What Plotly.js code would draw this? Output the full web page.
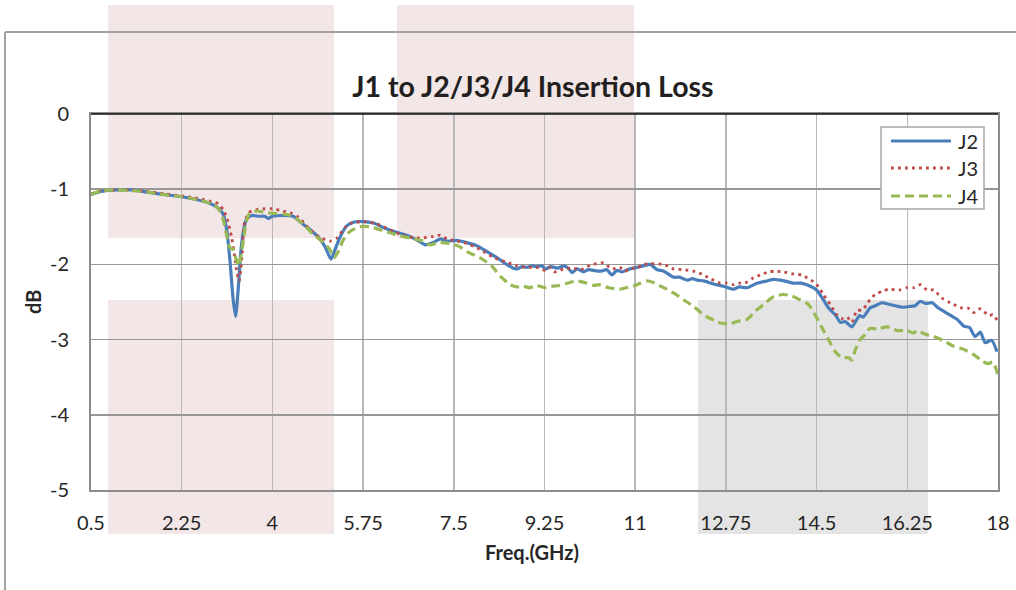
<!DOCTYPE html>
<html><head><meta charset="utf-8">
<script src="https://cdn.plot.ly/plotly-3.0.1.min.js"></script>
<style>html,body{margin:0;padding:0;background:#fff}</style>
</head><body><div id="chart" style="width:1016px;height:590px"></div>
<script>
// ---- data ----
const seriesNames = ['J2', 'J3', 'J4'];
const freqJ2 = [0.5,0.7,1.0,1.3,1.6,1.9,2.25,2.55,2.8,2.95,3.05,3.12,3.18,3.24,3.29,3.34,3.39,3.44,3.5,3.6,3.75,3.85,3.92,4.0,4.2,4.4,4.53,4.73,4.89,5.02,5.13,5.21,5.31,5.43,5.56,5.76,5.95,6.14,6.33,6.53,6.72,6.85,6.95,7.1,7.24,7.37,7.56,7.75,7.94,8.14,8.33,8.52,8.65,8.72,8.82,8.91,9.0,9.1,9.2,9.27,9.37,9.5,9.63,9.72,9.78,9.88,10.0,10.1,10.2,10.34,10.45,10.55,10.65,10.75,10.82,10.9,10.97,11.16,11.29,11.42,11.55,11.74,11.85,11.93,12.0,12.1,12.2,12.32,12.51,12.7,12.9,13.0,13.16,13.35,13.54,13.67,13.87,14.06,14.2,14.38,14.5,14.63,14.73,14.86,14.96,15.05,15.18,15.33,15.4,15.53,15.63,15.76,15.89,16.02,16.15,16.28,16.4,16.5,16.6,16.73,16.85,17.02,17.21,17.34,17.45,17.56,17.66,17.75,17.88,17.98];
const lossJ2 = [-1.07,-1.03,-1.01,-1.01,-1.04,-1.07,-1.10,-1.14,-1.19,-1.25,-1.33,-1.55,-1.94,-2.45,-2.69,-2.33,-1.84,-1.56,-1.40,-1.35,-1.36,-1.36,-1.39,-1.36,-1.35,-1.36,-1.43,-1.54,-1.64,-1.77,-1.93,-1.80,-1.63,-1.49,-1.44,-1.43,-1.45,-1.51,-1.56,-1.60,-1.65,-1.70,-1.74,-1.71,-1.66,-1.69,-1.68,-1.71,-1.75,-1.83,-1.91,-2.00,-2.05,-2.06,-2.03,-2.04,-2.02,-2.03,-2.02,-2.06,-2.03,-2.05,-2.02,-2.06,-2.11,-2.06,-2.10,-2.07,-2.08,-2.09,-2.07,-2.14,-2.08,-2.10,-2.08,-2.06,-2.05,-2.02,-2.00,-2.07,-2.09,-2.17,-2.17,-2.19,-2.21,-2.19,-2.21,-2.22,-2.26,-2.29,-2.33,-2.30,-2.31,-2.25,-2.22,-2.20,-2.22,-2.25,-2.25,-2.29,-2.34,-2.47,-2.58,-2.67,-2.77,-2.76,-2.83,-2.68,-2.70,-2.58,-2.55,-2.51,-2.53,-2.55,-2.57,-2.56,-2.55,-2.49,-2.52,-2.51,-2.58,-2.65,-2.73,-2.82,-2.84,-2.96,-2.90,-3.04,-3.01,-3.16];
const freqJ3 = [0.5,0.7,1.0,1.3,1.6,1.9,2.25,2.55,2.8,2.95,3.05,3.13,3.21,3.27,3.32,3.36,3.39,3.42,3.46,3.55,3.7,3.85,4.0,4.21,4.37,4.5,4.69,4.89,5.11,5.24,5.4,5.53,5.76,6.01,6.33,6.59,6.85,7.08,7.24,7.37,7.56,7.7,7.82,8.0,8.27,8.52,8.72,8.91,9.1,9.27,9.35,9.45,9.63,9.8,9.95,10.07,10.19,10.39,10.55,10.7,10.8,10.9,11.03,11.16,11.29,11.55,11.74,11.93,12.12,12.29,12.45,12.64,12.77,12.9,13.0,13.12,13.25,13.41,13.57,13.7,13.86,14.06,14.22,14.32,14.44,14.54,14.63,14.76,14.89,14.99,15.09,15.18,15.28,15.38,15.47,15.54,15.63,15.76,15.89,16.1,16.24,16.37,16.5,16.63,16.76,16.92,17.08,17.31,17.42,17.53,17.66,17.82,17.9,17.98];
const lossJ3 = [-1.06,-1.02,-1.01,-1.01,-1.03,-1.06,-1.09,-1.12,-1.16,-1.19,-1.27,-1.40,-1.63,-1.89,-2.12,-2.22,-2.07,-1.85,-1.45,-1.31,-1.27,-1.26,-1.26,-1.29,-1.32,-1.37,-1.51,-1.63,-1.69,-1.65,-1.51,-1.45,-1.43,-1.46,-1.56,-1.63,-1.65,-1.63,-1.61,-1.66,-1.69,-1.71,-1.74,-1.80,-1.91,-1.97,-2.02,-2.04,-2.04,-2.08,-2.04,-2.10,-2.06,-2.05,-2.07,-2.03,-2.00,-1.98,-2.06,-2.04,-2.09,-2.05,-2.05,-2.00,-1.99,-2.00,-2.06,-2.07,-2.09,-2.13,-2.19,-2.25,-2.25,-2.27,-2.25,-2.25,-2.19,-2.14,-2.10,-2.09,-2.10,-2.13,-2.14,-2.18,-2.23,-2.30,-2.40,-2.53,-2.67,-2.72,-2.70,-2.77,-2.61,-2.61,-2.53,-2.46,-2.40,-2.36,-2.33,-2.34,-2.31,-2.31,-2.27,-2.34,-2.34,-2.45,-2.51,-2.58,-2.58,-2.64,-2.59,-2.68,-2.67,-2.74];
const freqJ4 = [0.5,0.7,1.0,1.3,1.6,1.9,2.25,2.55,2.8,2.95,3.05,3.12,3.18,3.24,3.3,3.35,3.39,3.44,3.49,3.55,3.7,3.86,4.0,4.21,4.4,4.6,4.76,4.95,5.11,5.19,5.27,5.37,5.5,5.69,5.88,6.08,6.27,6.46,6.66,6.91,7.04,7.2,7.4,7.6,7.78,8.0,8.23,8.4,8.59,8.72,8.84,8.97,9.1,9.25,9.4,9.55,9.69,9.88,10.07,10.2,10.3,10.49,10.7,10.88,11.0,11.1,11.22,11.35,11.55,11.74,11.93,12.13,12.32,12.48,12.64,12.83,12.96,13.16,13.32,13.48,13.67,13.86,14.02,14.18,14.34,14.47,14.61,14.73,14.86,14.99,15.12,15.18,15.25,15.34,15.44,15.53,15.67,15.86,16.05,16.24,16.37,16.45,16.6,16.76,16.96,17.15,17.34,17.53,17.69,17.8,17.9,18.0];
const lossJ4 = [-1.07,-1.02,-1.01,-1.02,-1.04,-1.07,-1.10,-1.14,-1.19,-1.25,-1.40,-1.62,-1.78,-1.80,-1.93,-2.02,-1.90,-1.67,-1.45,-1.33,-1.29,-1.31,-1.32,-1.33,-1.36,-1.47,-1.58,-1.69,-1.80,-1.91,-1.83,-1.67,-1.56,-1.50,-1.50,-1.54,-1.58,-1.62,-1.65,-1.69,-1.74,-1.71,-1.72,-1.76,-1.84,-1.91,-2.02,-2.16,-2.27,-2.30,-2.29,-2.31,-2.28,-2.31,-2.29,-2.28,-2.25,-2.22,-2.25,-2.28,-2.27,-2.31,-2.33,-2.30,-2.28,-2.25,-2.22,-2.24,-2.31,-2.38,-2.47,-2.56,-2.67,-2.73,-2.78,-2.79,-2.76,-2.73,-2.62,-2.53,-2.43,-2.40,-2.42,-2.47,-2.53,-2.67,-2.85,-3.00,-3.16,-3.24,-3.24,-3.27,-3.13,-3.00,-2.93,-2.85,-2.86,-2.83,-2.88,-2.88,-2.91,-2.88,-2.93,-2.96,-3.02,-3.09,-3.13,-3.20,-3.28,-3.32,-3.30,-3.47];
const xTickVals = [0.5,2.25,4,5.75,7.5,9.25,11,12.75,14.5,16.25,18];
const xTickText = ['0.5','2.25','4','5.75','7.5','9.25','11','12.75','14.5','16.25','18'];
const yTickVals = [0,-1,-2,-3,-4,-5];
const yTickText = ['0','-1','-2','-3','-4','-5'];

// ---- layout helpers (pixel -> paper) ----
const W = 1016, H = 590, L = 91, R = 998, T = 114, B = 490;
const px = x => (x - L) / (R - L);
const py = y => (B - y) / (B - T);
const FONT = 'Lato, "Open Sans", sans-serif';
const TXT = '#262626';

const lineStyles = [
  {color:'#4a7ebb', width:3.2},
  {color:'#be4b48', width:2.8, dash:'2.8px,4.2px'},
  {color:'#98b954', width:3.2, dash:'9px,5px'}
];

function rect(x0, y0, x1, y1, color) {
  return {type:'rect', xref:'paper', yref:'paper', x0:px(x0), x1:px(x1), y0:py(y1), y1:py(y0),
          fillcolor:color, line:{width:0}, layer:'below'};
}
function seg(x0, y0, x1, y1, line, layer) {
  return {type:'line', xref:'paper', yref:'paper', x0:px(x0), x1:px(x1), y0:py(y0), y1:py(y1),
          line:line, layer:layer || 'below'};
}

const freqs = [freqJ2, freqJ3, freqJ4];
const losses = [lossJ2, lossJ3, lossJ4];
const traces = seriesNames.map((n, i) => ({
  x:freqs[i], y:losses[i], name:n, type:'scatter', mode:'lines', showlegend:false,
  line:Object.assign({shape:'spline', smoothing:0.6}, lineStyles[i])
}));

// legend drawn as shapes + text (box 881..984 x 127..209)
const legendRows = [141, 168, 196];
const legendShapes = [{type:'rect', xref:'paper', yref:'paper', x0:px(881), x1:px(984), y0:py(209), y1:py(127),
  fillcolor:'#ffffff', line:{color:'#a6a6a6', width:1.5}, layer:'above'}];
const legendTexts = [];
seriesNames.forEach((n, i) => {
  legendShapes.push(seg(891, legendRows[i], 951, legendRows[i], Object.assign({}, lineStyles[i]), 'above'));
  legendTexts.push({text:n, xref:'paper', yref:'paper', x:px(956), y:py(legendRows[i]), showarrow:false,
    xanchor:'left', yanchor:'middle', font:{family:FONT, size:20, color:TXT}});
});

const layout = {
  width:W, height:H,
  margin:{l:L, r:W-R, t:T, b:H-B, pad:0},
  paper_bgcolor:'#ffffff', plot_bgcolor:'rgba(0,0,0,0)',
  font:{family:FONT, color:TXT, size:20},
  title:{text:'J1 to J2/J3/J4 Insertion Loss', font:{family:FONT, size:28.5, weight:'bold', color:'#231f20'},
         x:533/W, xref:'container', xanchor:'center', y:1-87/H, yref:'container', yanchor:'middle'},
  showlegend:false,
  xaxis:{range:[0.5,18], tickmode:'array', tickvals:xTickVals, ticktext:xTickText,
         showgrid:true, gridcolor:'#b8b8b8', gridwidth:1.5, zeroline:false,
         showline:true, linecolor:'#8c8c8c', linewidth:2, mirror:true, ticks:'',
         ticklabelstandoff:14, tickfont:{family:FONT, size:20, color:TXT}, fixedrange:true},
  yaxis:{range:[-5,0], tickmode:'array', tickvals:yTickVals, ticktext:yTickText,
         showgrid:true, gridcolor:'#979797', gridwidth:1.5, zeroline:false,
         showline:true, linecolor:'#8c8c8c', linewidth:2, mirror:true, ticks:'',
         ticklabelstandoff:16, tickfont:{family:FONT, size:20, color:TXT}, fixedrange:true},
  shapes:[
    rect(108, 5, 334, 238, '#f3e6e7'),
    rect(397, 5, 634, 238, '#f3e6e7'),
    rect(108, 300, 334, 534, '#f3e6e7'),
    rect(698, 300, 928, 534, '#e4e4e4'),
    seg(5, 32, W + 5, 32, {color:'#a3a3a3', width:2}),
    seg(5, 32, 5, H + 5, {color:'#a3a3a3', width:2}),
    seg(L, T, R, T, {color:'#111111', width:1.6}, 'above')
  ].concat(legendShapes),
  annotations:[
    {text:'<b>Freq.(GHz)</b>', xref:'paper', yref:'paper', x:px(532), y:py(552), showarrow:false,
     xanchor:'center', yanchor:'middle', font:{family:FONT, size:20, color:TXT}},
    {text:'<b>dB</b>', xref:'paper', yref:'paper', x:px(33), y:py(302), showarrow:false, textangle:-90,
     xanchor:'center', yanchor:'middle', font:{family:FONT, size:20, color:TXT}}
  ].concat(legendTexts),
  hovermode:false
};

Plotly.newPlot('chart', traces, layout, {staticPlot:true, displayModeBar:false});
</script>
</body></html>
